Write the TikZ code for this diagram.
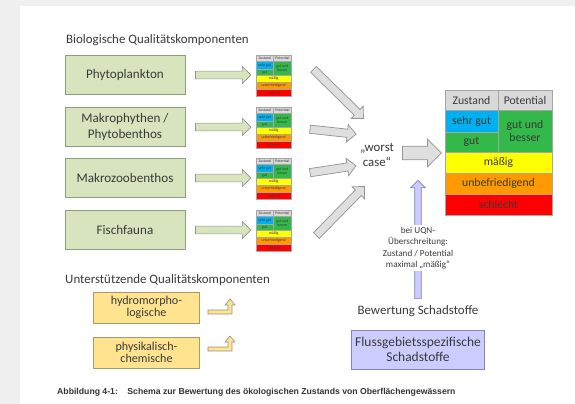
\documentclass[tikz,border=0pt]{standalone}
\usepackage{fontspec}
\setmainfont{Carlito}
\newfontfamily\captionfont{Liberation Sans}
\usetikzlibrary{arrows.meta, positioning, calc, shapes.arrows}

\definecolor{txtgray}{HTML}{3A3A3A}
\definecolor{biofill}{HTML}{D7E4BD}
\definecolor{bioline}{HTML}{8C9C7C}
\definecolor{hdrgray}{HTML}{D9D9D9}
\definecolor{skyblue}{HTML}{00B0F0}
\definecolor{goodgreen}{HTML}{33B84A}
\definecolor{midyellow}{HTML}{FFFF00}
\definecolor{poororange}{HTML}{FF9900}
\definecolor{badred}{HTML}{FF0000}
\definecolor{supfill}{HTML}{FFE38F}
\definecolor{supline}{HTML}{A89A6A}
\definecolor{polfill}{HTML}{CCCCFF}
\definecolor{polline}{HTML}{8585B5}

\tikzset{
  grouphead/.style={font=\fontsize{11}{13}\selectfont, inner sep=0pt},
  biobox/.style={draw=bioline, fill=biofill, line width=0.8pt, minimum width=3.6cm,
    minimum height=1.15cm, align=center, font=\fontsize{11.2}{13.5}\selectfont},
  supbox/.style={draw=supline, fill=supfill, line width=0.8pt, minimum width=3.2cm,
    minimum height=0.93cm, align=center, font=\fontsize{10.3}{10.8}\selectfont},
  polbox/.style={draw=polline, fill=polfill, line width=0.8pt, minimum width=3.96cm,
    minimum height=1.17cm, align=center, font=\fontsize{11.5}{12.5}\selectfont},
  blkarrow/.style={single arrow, draw=gray!85, line width=0.6pt, text height=0pt,
    text depth=0pt, inner xsep=0pt, single arrow tip angle=90},
  greenarrow/.style={blkarrow, fill=biofill, inner ysep=3pt, single arrow head extend=4pt},
  grayarrow/.style={blkarrow, fill=gray!25, inner ysep=3.2pt, single arrow head extend=4pt},
  bigarrow/.style={blkarrow, fill=gray!25, inner ysep=5.5pt, single arrow head extend=6pt},
  polarrow/.style={blkarrow, draw=polline, fill=polfill, inner ysep=2.5pt,
    single arrow head extend=3.5pt},
  elbowarrow/.style={draw=gray!85, fill=supfill, line width=0.5pt},
  cell/.style={draw=gray!70, line width=0.5pt},
  celltext/.style={font=\fontsize{10}{11}\selectfont, text=txtgray, align=center, inner sep=0pt},
  % the quality table (Zustand / Potential)
  qtab/.pic={
    \filldraw[cell, fill=hdrgray] (0,0) rectangle (53,20);
    \filldraw[cell, fill=hdrgray] (53,0) rectangle (107,20);
    \filldraw[cell, fill=skyblue] (0,20) rectangle (53,42);
    \filldraw[cell, fill=goodgreen] (0,42) rectangle (53,62);
    \filldraw[cell, fill=goodgreen] (53,20) rectangle (107,62);
    \filldraw[cell, fill=midyellow] (0,62) rectangle (107,83);
    \filldraw[cell, fill=poororange] (0,83) rectangle (107,104);
    \filldraw[cell, fill=badred] (0,104) rectangle (107,125);
    \node[celltext] at (26.5,10) {Zustand};
    \node[celltext] at (80,10) {Potential};
    \node[celltext] at (26.5,31) {sehr gut};
    \node[celltext] at (26.5,52) {gut};
    \node[celltext] at (80,41) {gut und\\besser};
    \node[celltext] at (53.5,72.5) {mäßig};
    \node[celltext] at (53.5,93.5) {unbefriedigend};
    \node[celltext] at (53.5,114.5) {schlecht};
  }
}

% block arrow from one point to another
\newcommand{\blockarrow}[3][]{%
  \path let \p2=(#2), \p3=(#3), \n1={atan2(\y3-\y2,\x3-\x2)},
    \n2={veclen(\x3-\x2,\y3-\y2)} in
    node[#1, rotate=\n1, minimum height=\n2] at (\x2/2+\x3/2, \y2/2+\y3/2) {};}

% small bent arrow, #1 is the outer corner
\newcommand{\elbow}[1]{%
  \filldraw[elbowarrow] (#1) ++(-24,0) -- ++(24,0) -- ++(0,-9) -- ++(3,0)
    -- ++(-5,-6) -- ++(-5,6) -- ++(3,0) -- ++(0,5) -- ++(-20,0) -- cycle;}

\begin{document}
\begin{tikzpicture}[x=0.03cm, y=-0.03cm, every node/.style={text=txtgray}]
  % page
  \useasboundingbox (0,0) rectangle (575,404);
  \fill[gray!12] (0,0) rectangle (575,404);
  \fill[white] (20,6) rectangle (575,404);

  % biological quality components
  \node[grouphead, anchor=west] (biohead) at (66,40) {Biologische Qualitätskomponenten};
  \node[biobox] (phyto) at (125,75) {Phytoplankton};
  \node[biobox] (makro) at (125,127) {Makrophythen /\\Phytobenthos};
  \node[biobox] (mzb) at (125,178) {Makrozoobenthos};
  \node[biobox] (fisch) at (125,230) {Fischfauna};

  % small tables per component
  \foreach \ty/\tn in {55/t1, 107/t2, 158/t3, 210/t4}{
    \coordinate (\tn) at (256,\ty);
    \pic[scale=0.33, transform shape] at (\tn) {qtab};
  }
  \blockarrow[greenarrow]{$(phyto.east)+(8,0)$}{$(t1)+(-7,20)$}
  \blockarrow[greenarrow]{$(makro.east)+(8,0)$}{$(t2)+(-7,20)$}
  \blockarrow[greenarrow]{$(mzb.east)+(8,0)$}{$(t3)+(-7,20)$}
  \blockarrow[greenarrow]{$(fisch.east)+(8,0)$}{$(t4)+(-7,20)$}

  % worst case
  \node[font=\fontsize{11}{12.5}\selectfont, align=center] (worst) at (377,155) {„worst\\case“};
  \coordinate (w1s) at (312,68);  \coordinate (w1e) at (362,117);
  \coordinate (w2s) at (308,129); \coordinate (w2e) at (354,134);
  \coordinate (w3s) at (308,173); \coordinate (w3e) at (354,166);
  \coordinate (w4s) at (315,237); \coordinate (w4e) at (363,188);
  \blockarrow[grayarrow]{w1s}{w1e}
  \blockarrow[grayarrow]{w2s}{w2e}
  \blockarrow[grayarrow]{w3s}{w3e}
  \blockarrow[grayarrow]{w4s}{w4e}

  % resulting classification
  \coordinate (bigtab) at (445,90);
  \pic at (bigtab) {qtab};
  \blockarrow[bigarrow]{$(worst.east)+(1,-2)$}{$(bigtab)+(-7,63)$}

  % pollutants
  \node[polbox] (schad) at (418,349.5) {Flussgebietsspezifische\\Schadstoffe};
  \node[font=\fontsize{11}{12}\selectfont] (bewert) at (418,311) {Bewertung Schadstoffe};
  \coordinate (uqntip) at (418,182);
  \blockarrow[polarrow]{$(bewert.north)+(0,-1)$}{uqntip}
  \node[fill=white, align=center, inner ysep=2pt, font=\fontsize{7.8}{9.6}\selectfont]
    (uqn) at (418,248) {bei UQN-\\Überschreitung:\\Zustand / Potential\\maximal „mäßig“};

  % supporting quality components
  \node[grouphead, anchor=west] (suphead) at (65,280) {Unterstützende Qualitätskomponenten};
  \node[supbox] (hydro) at (146.5,307.5) {hydromorpho-\\logische};
  \node[supbox] (phys) at (146.5,352.5) {physikalisch-\\chemische};
  \coordinate (e1) at (232,314);
  \coordinate (e2) at (232,351);
  \elbow{e1}
  \elbow{e2}

  % caption
  \node[anchor=west, inner sep=0pt, text=black!80,
    font=\captionfont\bfseries\fontsize{7.4}{8.5}\selectfont] (cap) at (57,392)
    {Abbildung 4-1:\hspace{1.1em}Schema zur Bewertung des ökologischen Zustands von Oberflächengewässern};
\end{tikzpicture}
\end{document}
